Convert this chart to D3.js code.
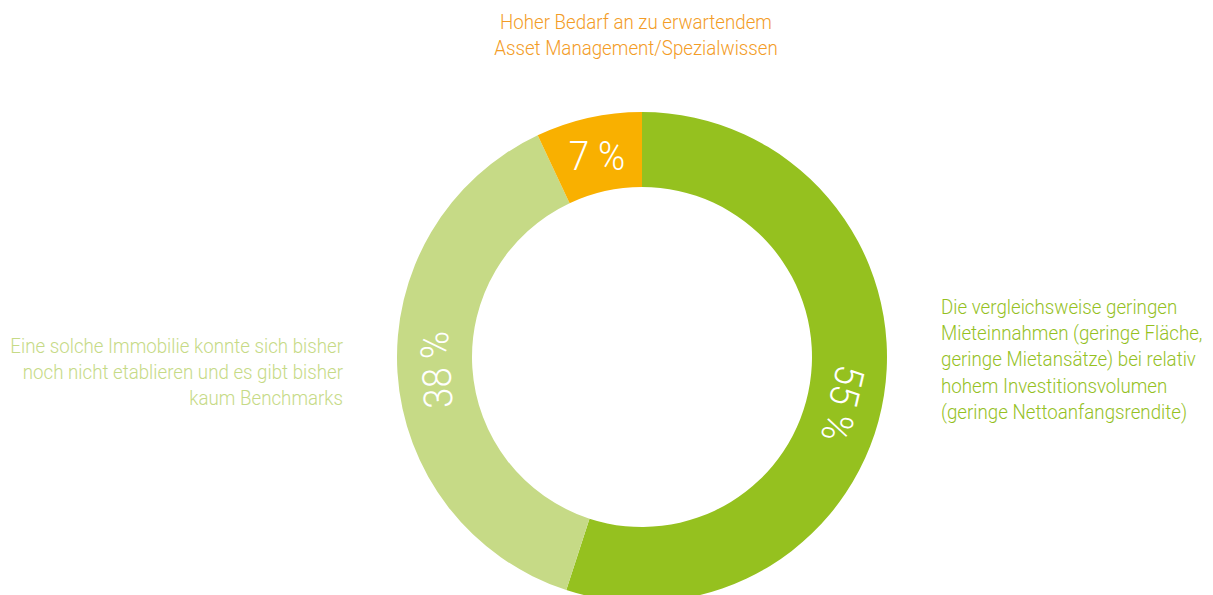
<!DOCTYPE html>
<html>
<head>
<meta charset="utf-8">
<script src="https://cdn.jsdelivr.net/npm/d3@7"></script>
<style>
  html, body { margin: 0; padding: 0; background: #fff; }
  svg { display: block; }
  text { font-family: "Roboto", "Liberation Sans", sans-serif; font-weight: 300; }
</style>
</head>
<body>
<svg id="chart" width="1213" height="595"></svg>
<script>
// Slice values, in drawing order clockwise from 12 o'clock
const values = [55, 38, 7];
const valueLabels = ["55 %", "38 %", "7 %"];
const sliceColors = ["#95c11f", "#c6da86", "#f9b000"];
const textColors = ["#95c11f", "#c6da86", "#f39c26"];
const descriptions = [
  ["Die vergleichsweise geringen", "Mieteinnahmen (geringe Fläche,", "geringe Mietansätze) bei relativ", "hohem Investitionsvolumen", "(geringe Nettoanfangsrendite)"],
  ["Eine solche Immobilie konnte sich bisher", "noch nicht etablieren und es gibt bisher", "kaum Benchmarks"],
  ["Hoher Bedarf an zu erwartendem", "Asset Management/Spezialwissen"]
];

const svg = d3.select("#chart");
const cx = 642, cy = 357;
const outerR = 245, innerR = 170;
const narrowText = 0.96;  // horizontal squeeze for the callouts
const narrowPct = 0.92;   // horizontal squeeze for the percentages
const pctShiftDeg = [4, 0, 0]; // nudge of each percentage along the ring

const pie = d3.pie().sort(null).value(d => d);
const arcs = pie(values);
const arc = d3.arc().innerRadius(innerR).outerRadius(outerR);
const labelR = (innerR + outerR) / 2 - 1;

const g = svg.append("g").attr("transform", `translate(${cx},${cy})`);

g.selectAll("path.slice")
  .data(arcs)
  .join("path")
  .attr("class", "slice")
  .attr("d", arc)
  .attr("fill", (d, i) => sliceColors[i]);

// Percentage labels: large slices run along the ring, the small one stays upright
g.selectAll("text.pct")
  .data(arcs)
  .join("text")
  .attr("class", "pct")
  .attr("transform", (d, i) => {
    const midDeg = (d.startAngle + d.endAngle) / 2 * 180 / Math.PI + pctShiftDeg[i];
    const a = midDeg * Math.PI / 180;
    const x = labelR * Math.sin(a), y = -labelR * Math.cos(a);
    const rot = (d.endAngle - d.startAngle) < 0.6 ? 0 : midDeg;
    return `translate(${x},${y}) rotate(${rot}) scale(${narrowPct},1)`;
  })
  .attr("text-anchor", "middle")
  .attr("dy", "0.36em")
  .attr("fill", "#fff")
  .attr("font-size", 40)
  .text((d, i) => valueLabels[i]);

// Descriptive callouts
const fs = 19.5;
const lh = 26.2;

function block(lines, x, y, anchor, color) {
  const t = svg.append("text")
    .attr("transform", `translate(${x},${y}) scale(${narrowText},1)`)
    .attr("text-anchor", anchor)
    .attr("fill", color)
    .attr("font-size", fs);
  t.selectAll("tspan")
    .data(lines)
    .join("tspan")
    .attr("x", 0)
    .attr("dy", (d, i) => i === 0 ? 0 : lh)
    .text(d => d);
}

block(descriptions[0], 941, 314, "start", textColors[0]);
block(descriptions[1], 343, 353, "end", textColors[1]);
block(descriptions[2], 636, 29, "middle", textColors[2]);
</script>
</body>
</html>
